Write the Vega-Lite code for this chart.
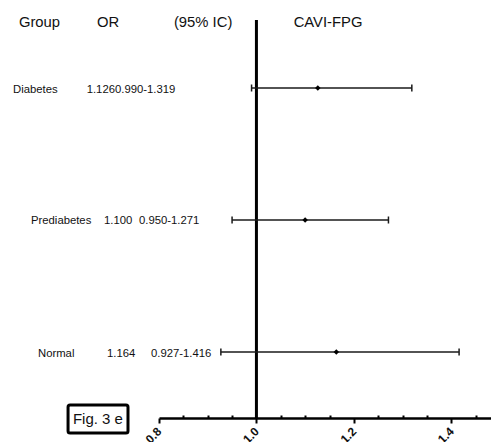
{
  "$schema": "https://vega.github.io/schema/vega-lite/v6.json",
  "background": "white",
  "padding": {"left": 0, "top": 10, "right": 0, "bottom": 0},
  "autosize": {"type": "pad"},
  "spacing": 0,
  "bounds": "flush",
  "config": {
    "view": {"stroke": null},
    "text": {"font": "Liberation Sans", "color": "#111111"}
  },
  "datasets": {
    "groups": [
      {"group": "Diabetes", "row": 1, "or": 1.126, "lo": 0.990, "hi": 1.319, "ci": "0.990-1.319"},
      {"group": "Prediabetes", "row": 2, "or": 1.100, "lo": 0.950, "hi": 1.271, "ci": "0.950-1.271"},
      {"group": "Normal", "row": 3, "or": 1.164, "lo": 0.927, "hi": 1.416, "ci": "0.927-1.416"}
    ]
  },
  "hconcat": [
    {
      "width": 159,
      "height": 408,
      "data": {"name": "groups"},
      "layer": [
        {
          "data": {"values": [{"h": "Group"}]},
          "mark": {"type": "text", "align": "left", "baseline": "alphabetic", "fontSize": 14.8},
          "encoding": {
            "text": {"field": "h"},
            "x": {"datum": 11.9, "type": "quantitative", "scale": {"domain": [0, 100], "nice": false, "zero": false}, "axis": null},
            "y": {"datum": 0.535, "type": "quantitative", "scale": {"domain": [0.409, 3.5], "reverse": true, "nice": false, "zero": false}, "axis": null}
          }
        },
        {
          "data": {"values": [{"h": "OR"}]},
          "mark": {"type": "text", "align": "left", "baseline": "alphabetic", "fontSize": 14.8},
          "encoding": {
            "text": {"field": "h"},
            "x": {"datum": 61.0, "type": "quantitative", "scale": {"domain": [0, 100], "nice": false, "zero": false}, "axis": null},
            "y": {"datum": 0.535, "type": "quantitative", "scale": {"domain": [0.409, 3.5], "reverse": true, "nice": false, "zero": false}, "axis": null}
          }
        },
        {
          "data": {"values": [{"h": "(95% IC)"}]},
          "mark": {"type": "text", "align": "left", "baseline": "alphabetic", "fontSize": 14.8},
          "encoding": {
            "text": {"field": "h"},
            "x": {"datum": 109.4, "type": "quantitative", "scale": {"domain": [0, 100], "nice": false, "zero": false}, "axis": null},
            "y": {"datum": 0.535, "type": "quantitative", "scale": {"domain": [0.409, 3.5], "reverse": true, "nice": false, "zero": false}, "axis": null}
          }
        },
        {
          "transform": [{"filter": "datum.group === 'Diabetes'"}],
          "layer": [
            {
              "mark": {"type": "text", "align": "left", "baseline": "middle", "dy": 2, "fontSize": 11.3},
              "encoding": {
                "text": {"field": "group"},
                "x": {"datum": 8.2, "type": "quantitative", "scale": {"domain": [0, 100], "nice": false, "zero": false}, "axis": null},
                "y": {"field": "row", "type": "quantitative", "scale": {"domain": [0.409, 3.5], "reverse": true, "nice": false, "zero": false}, "axis": null}
              }
            },
            {
              "mark": {"type": "text", "align": "right", "baseline": "middle", "dy": 2, "fontSize": 11.3},
              "encoding": {
                "text": {"field": "or", "type": "quantitative", "format": ".3f"},
                "x": {"datum": 72.3, "type": "quantitative", "scale": {"domain": [0, 100], "nice": false, "zero": false}, "axis": null},
                "y": {"field": "row", "type": "quantitative", "scale": {"domain": [0.409, 3.5], "reverse": true, "nice": false, "zero": false}, "axis": null}
              }
            },
            {
              "mark": {"type": "text", "align": "left", "baseline": "middle", "dy": 2, "fontSize": 11.3},
              "encoding": {
                "text": {"field": "ci"},
                "x": {"datum": 72.3, "type": "quantitative", "scale": {"domain": [0, 100], "nice": false, "zero": false}, "axis": null},
                "y": {"field": "row", "type": "quantitative", "scale": {"domain": [0.409, 3.5], "reverse": true, "nice": false, "zero": false}, "axis": null}
              }
            }
          ]
        },
        {
          "transform": [{"filter": "datum.group === 'Prediabetes'"}],
          "layer": [
            {
              "mark": {"type": "text", "align": "left", "baseline": "middle", "dy": 1, "fontSize": 11.3},
              "encoding": {
                "text": {"field": "group"},
                "x": {"datum": 19.5, "type": "quantitative", "scale": {"domain": [0, 100], "nice": false, "zero": false}, "axis": null},
                "y": {"field": "row", "type": "quantitative", "scale": {"domain": [0.409, 3.5], "reverse": true, "nice": false, "zero": false}, "axis": null}
              }
            },
            {
              "mark": {"type": "text", "align": "left", "baseline": "middle", "dy": 1, "fontSize": 11.3},
              "encoding": {
                "text": {"field": "or", "type": "quantitative", "format": ".3f"},
                "x": {"datum": 65.4, "type": "quantitative", "scale": {"domain": [0, 100], "nice": false, "zero": false}, "axis": null},
                "y": {"field": "row", "type": "quantitative", "scale": {"domain": [0.409, 3.5], "reverse": true, "nice": false, "zero": false}, "axis": null}
              }
            },
            {
              "mark": {"type": "text", "align": "left", "baseline": "middle", "dy": 1, "fontSize": 11.3},
              "encoding": {
                "text": {"field": "ci"},
                "x": {"datum": 87.4, "type": "quantitative", "scale": {"domain": [0, 100], "nice": false, "zero": false}, "axis": null},
                "y": {"field": "row", "type": "quantitative", "scale": {"domain": [0.409, 3.5], "reverse": true, "nice": false, "zero": false}, "axis": null}
              }
            }
          ]
        },
        {
          "transform": [{"filter": "datum.group === 'Normal'"}],
          "layer": [
            {
              "mark": {"type": "text", "align": "left", "baseline": "middle", "dy": 2, "fontSize": 11.3},
              "encoding": {
                "text": {"field": "group"},
                "x": {"datum": 23.9, "type": "quantitative", "scale": {"domain": [0, 100], "nice": false, "zero": false}, "axis": null},
                "y": {"field": "row", "type": "quantitative", "scale": {"domain": [0.409, 3.5], "reverse": true, "nice": false, "zero": false}, "axis": null}
              }
            },
            {
              "mark": {"type": "text", "align": "left", "baseline": "middle", "dy": 2, "fontSize": 11.3},
              "encoding": {
                "text": {"field": "or", "type": "quantitative", "format": ".3f"},
                "x": {"datum": 67.3, "type": "quantitative", "scale": {"domain": [0, 100], "nice": false, "zero": false}, "axis": null},
                "y": {"field": "row", "type": "quantitative", "scale": {"domain": [0.409, 3.5], "reverse": true, "nice": false, "zero": false}, "axis": null}
              }
            },
            {
              "mark": {"type": "text", "align": "left", "baseline": "middle", "dy": 2, "fontSize": 11.3},
              "encoding": {
                "text": {"field": "ci"},
                "x": {"datum": 95.0, "type": "quantitative", "scale": {"domain": [0, 100], "nice": false, "zero": false}, "axis": null},
                "y": {"field": "row", "type": "quantitative", "scale": {"domain": [0.409, 3.5], "reverse": true, "nice": false, "zero": false}, "axis": null}
              }
            }
          ]
        },
        {
          "data": {"values": [{"fig": "Fig. 3 e"}]},
          "mark": {"type": "rect", "fill": "white", "stroke": "black", "strokeWidth": 3, "cornerRadius": 2},
          "encoding": {
            "x": {"datum": 42.8, "type": "quantitative", "scale": {"domain": [0, 100], "nice": false, "zero": false}, "axis": null},
            "x2": {"datum": 80.5},
            "y": {"datum": 3.402, "type": "quantitative", "scale": {"domain": [0.409, 3.5], "reverse": true, "nice": false, "zero": false}, "axis": null},
            "y2": {"datum": 3.614}
          }
        },
        {
          "data": {"values": [{"fig": "Fig. 3 e"}]},
          "mark": {"type": "text", "align": "center", "baseline": "middle", "fontSize": 15},
          "encoding": {
            "text": {"field": "fig"},
            "x": {"datum": 61.6, "type": "quantitative", "scale": {"domain": [0, 100], "nice": false, "zero": false}, "axis": null},
            "y": {"datum": 3.508, "type": "quantitative", "scale": {"domain": [0.409, 3.5], "reverse": true, "nice": false, "zero": false}, "axis": null}
          }
        }
      ]
    },
    {
      "width": 332,
      "height": 408,
      "data": {"name": "groups"},
      "resolve": {"axis": {"x": "independent"}},
      "layer": [
        {
          "data": {"values": [{"ref": 1}]},
          "mark": {"type": "rule", "strokeWidth": 3, "color": "black"},
          "encoding": {
            "x": {
              "field": "ref",
              "type": "quantitative",
              "scale": {"domain": [0.8, 1.4815], "nice": false, "zero": false},
              "axis": {
                "orient": "bottom",
                "title": null,
                "grid": false,
                "values": [0.8, 1.0, 1.2, 1.4],
                "format": ".1f",
                "labelAngle": -45,
                "labelAlign": "right",
                "labelBaseline": "middle",
                "labelFont": "Liberation Sans",
                "labelFontWeight": "bold",
                "labelFontSize": 12,
                "labelColor": "#111111",
                "labelPadding": 6,
                "labelOverlap": false,
                "labelFlush": false,
                "domainColor": "black",
                "domainWidth": 2.5,
                "tickColor": "black",
                "tickWidth": 2,
                "tickSize": 5
              }
            },
            "y": {"datum": 0.485, "type": "quantitative", "scale": {"domain": [0.409, 3.5], "reverse": true, "nice": false, "zero": false}, "axis": null},
            "y2": {"datum": 3.5}
          }
        },
        {
          "mark": {"type": "rule", "strokeWidth": 1.5, "color": "#1a1a1a"},
          "encoding": {
            "x": {
              "field": "lo",
              "type": "quantitative",
              "axis": {
                "orient": "bottom",
                "title": null,
                "grid": false,
                "labels": false,
                "domain": false,
                "values": [0.85, 0.9, 0.95, 1.05, 1.1, 1.15, 1.25, 1.3, 1.35, 1.45],
                "tickColor": "black",
                "tickWidth": 2,
                "tickSize": -3
              }
            },
            "x2": {"field": "hi"},
            "y": {"field": "row", "type": "quantitative"}
          }
        },
        {
          "mark": {"type": "tick", "orient": "vertical", "size": 7, "thickness": 1.5, "color": "#1a1a1a", "opacity": 1},
          "encoding": {
            "x": {"field": "lo", "type": "quantitative", "axis": null},
            "y": {"field": "row", "type": "quantitative"}
          }
        },
        {
          "mark": {"type": "tick", "orient": "vertical", "size": 7, "thickness": 1.5, "color": "#1a1a1a", "opacity": 1},
          "encoding": {
            "x": {"field": "hi", "type": "quantitative", "axis": null},
            "y": {"field": "row", "type": "quantitative"}
          }
        },
        {
          "mark": {"type": "point", "shape": "diamond", "filled": true, "size": 30, "color": "black", "opacity": 1},
          "encoding": {
            "x": {"field": "or", "type": "quantitative", "axis": null},
            "y": {"field": "row", "type": "quantitative"}
          }
        },
        {
          "data": {"values": [{"t": "CAVI-FPG"}]},
          "mark": {"type": "text", "align": "center", "baseline": "alphabetic", "fontSize": 14.8},
          "encoding": {
            "text": {"field": "t"},
            "x": {"datum": 1.147, "type": "quantitative", "axis": null},
            "y": {"datum": 0.535, "type": "quantitative"}
          }
        }
      ]
    }
  ]
}
